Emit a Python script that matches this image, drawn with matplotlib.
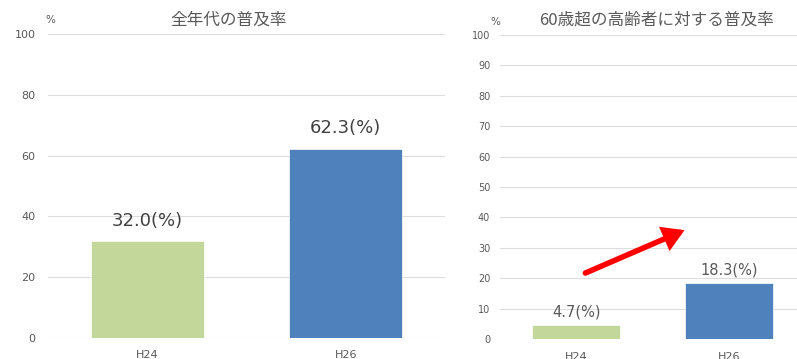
import matplotlib.pyplot as plt

plt.rcParams['font.family'] = ['DejaVu Sans', 'Noto Sans CJK JP']

# データ
years = ['H24', 'H26']
all_ages = [32.0, 62.3]
over60 = [4.7, 18.3]
bar_colors = ['#C4D79B', '#4F81BD']
text_color = '#595959'
grid_color = '#DDDDDD'

fig = plt.figure(figsize=(7.97, 3.59), dpi=100)

ax1 = fig.add_axes([48 / 797, 21 / 359, 397 / 797, 304 / 359])
ax2 = fig.add_axes([500 / 797, 20 / 359, 305 / 797, 304 / 359])


def style_axes(ax, step, tick_size, ypad):
    ax.set_ylim(0, 100)
    ax.set_yticks(range(0, 101, step))
    ax.set_xlim(-0.5, 1.5)
    ax.grid(axis='y', color=grid_color, linewidth=0.8)
    ax.set_axisbelow(True)
    for s in ax.spines.values():
        s.set_visible(False)
    ax.tick_params(axis='y', length=0, labelsize=tick_size, labelcolor=text_color, pad=ypad)
    ax.tick_params(axis='x', length=0, labelsize=8, labelcolor=text_color, pad=9)


# 左: 全年代
ax1.bar(years, all_ages, width=0.57, color=bar_colors, edgecolor='white', linewidth=0.5)
style_axes(ax1, 20, 8, 9)
for i, v in enumerate(all_ages):
    ax1.annotate(f'{v:.1f}(%)', (i, v), xytext=(0, 8), textcoords='offset points',
                 ha='center', va='bottom', fontsize=13, color='#404040')

# 右: 60歳超
ax2.bar(years, over60, width=0.577, color=bar_colors, edgecolor='white', linewidth=0.5)
style_axes(ax2, 10, 7, 7)
for i, v in enumerate(over60):
    ax2.annotate(f'{v:.1f}(%)', (i, v), xytext=(0, 4), textcoords='offset points',
                 ha='center', va='bottom', fontsize=10.5, color=text_color)

# 赤い矢印
ax2.annotate('', xy=(0.71, 35.8), xytext=(0.06, 21.7),
             arrowprops=dict(arrowstyle='-|>,head_length=0.5,head_width=0.3',
                             color='#FF0000', lw=4, mutation_scale=20,
                             shrinkA=0, shrinkB=0, joinstyle='miter'))

# タイトルと単位
fig.text(229 / 797, 1 - 20 / 359, '全年代の普及率', ha='center', va='center',
         fontsize=12, color=text_color, family=['Noto Sans CJK JP', 'DejaVu Sans'])
fig.text(657 / 797, 1 - 20 / 359, '60歳超の高齢者に対する普及率', ha='center', va='center',
         fontsize=12, color=text_color, family=['Noto Sans CJK JP', 'DejaVu Sans'])
fig.text(50 / 797, 1 - 20 / 359, '%', ha='center', va='center', fontsize=7.5, color=text_color)
fig.text(495 / 797, 1 - 22 / 359, '%', ha='center', va='center', fontsize=7.5, color=text_color)

fig.savefig('out.png', dpi=100)
